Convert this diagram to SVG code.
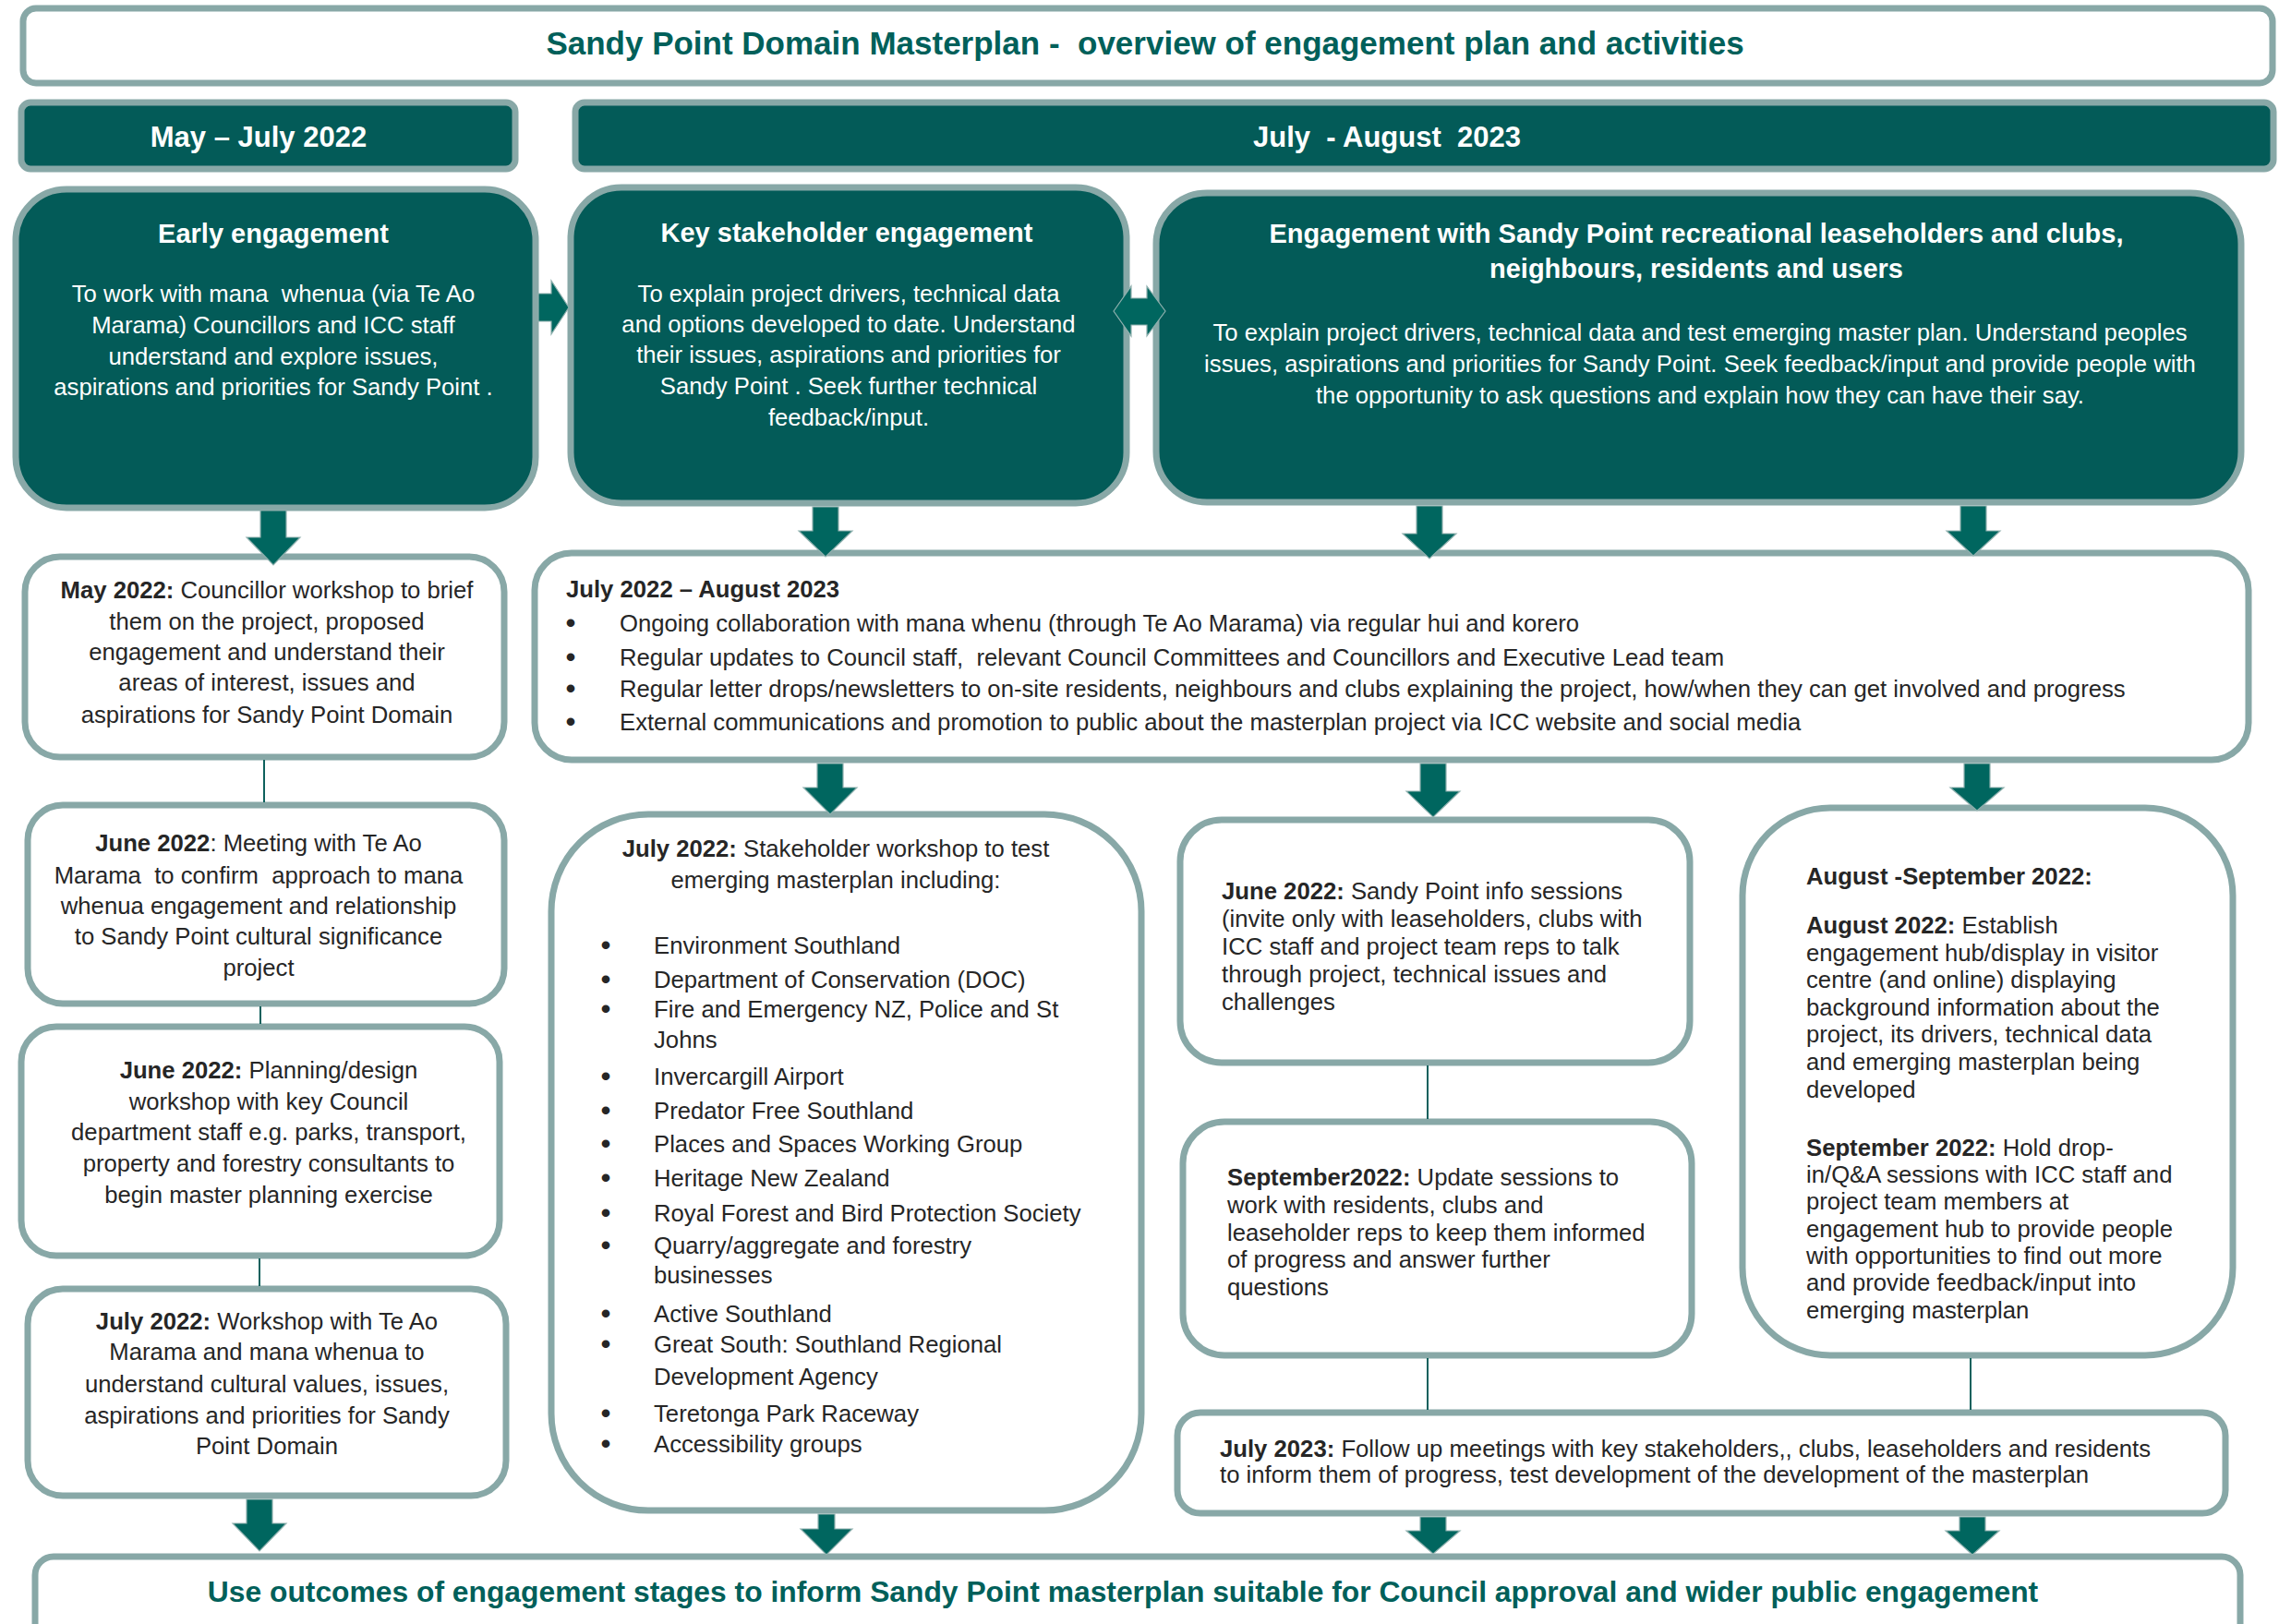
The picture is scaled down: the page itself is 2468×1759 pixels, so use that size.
<svg xmlns="http://www.w3.org/2000/svg" width="2468" height="1759" viewBox="0 0 2468 1759" xml:space="preserve">
<style>
.box{fill:#fff;stroke:#88A8A7;stroke-width:7}
.dbox{fill:#035B58;stroke:#88A8A7;stroke-width:7}
text{font-family:"Liberation Sans",Arial,sans-serif;font-size:25.7px;fill:#262626;white-space:pre}
.c{text-anchor:middle}
.w{fill:#fff}
.b{font-weight:bold}
.bu{font-size:30px;font-weight:bold;text-anchor:middle}
.h{font-size:29px;font-weight:bold;fill:#fff;text-anchor:middle}
.hd{font-size:31px;font-weight:bold;fill:#fff}
.tt{font-weight:bold;fill:#00605A}
.arr{fill:#00665F;stroke:#8FB0AE;stroke-width:1.2}
.ln{stroke:#0E615D;stroke-width:2;fill:none}
</style>
<rect width="2468" height="1759" fill="#fff"/>
<g id="title"><rect class="box" x="25" y="9" width="2436" height="81" rx="14"/><text class="tt c" x="1240" y="59" style="font-size:35px">Sandy Point Domain Masterplan -  overview of engagement plan and activities</text></g>
<g id="hdr-may-july"><rect class="dbox" x="23" y="111" width="535" height="72" rx="10"/><text class="hd c" x="280" y="159">May – July 2022</text></g>
<g id="hdr-july-aug"><rect class="dbox" x="623" y="111" width="1839" height="72" rx="10"/><text class="hd" x="1357" y="159">July  - August  2023</text></g>
<g id="early"><rect class="dbox" x="17" y="205" width="563" height="345" rx="55"/><text class="h" x="296" y="263">Early engagement</text><text class="w c" x="296" y="327">To work with mana  whenua (via Te Ao</text><text class="w c" x="296" y="361">Marama) Councillors and ICC staff</text><text class="w c" x="296" y="395">understand and explore issues,</text><text class="w c" x="296" y="428">aspirations and priorities for Sandy Point .</text></g>
<g id="key"><rect class="dbox" x="618" y="203" width="602" height="342" rx="55"/><text class="h" x="917" y="262">Key stakeholder engagement</text><text class="w c" x="919" y="327">To explain project drivers, technical data</text><text class="w c" x="919" y="360">and options developed to date. Understand</text><text class="w c" x="919" y="393">their issues, aspirations and priorities for</text><text class="w c" x="919" y="427">Sandy Point . Seek further technical</text><text class="w c" x="919" y="461">feedback/input.</text></g>
<g id="engagement"><rect class="dbox" x="1252" y="209" width="1175" height="335" rx="55"/><text class="h" x="1837" y="263">Engagement with Sandy Point recreational leaseholders and clubs,</text><text class="h" x="1837" y="301">neighbours, residents and users</text><text class="w c" x="1841" y="369">To explain project drivers, technical data and test emerging master plan. Understand peoples</text><text class="w c" x="1841" y="403">issues, aspirations and priorities for Sandy Point. Seek feedback/input and provide people with</text><text class="w c" x="1841" y="437">the opportunity to ask questions and explain how they can have their say.</text></g>
<g id="may2022"><rect class="box" x="27" y="603" width="519" height="217" rx="38"/><text class="c" x="289" y="648"><tspan class="b">May 2022:</tspan> Councillor workshop to brief</text><text class="c" x="289" y="682">them on the project, proposed</text><text class="c" x="289" y="715">engagement and understand their</text><text class="c" x="289" y="748">areas of interest, issues and</text><text class="c" x="289" y="783">aspirations for Sandy Point Domain</text></g>
<g id="ongoing"><rect class="box" x="579" y="599" width="1856" height="224" rx="40"/><text class="b" x="613" y="647">July 2022 – August 2023</text><text class="bu" x="618" y="685">•</text><text x="671" y="684">Ongoing collaboration with mana whenu (through Te Ao Marama) via regular hui and korero</text><text class="bu" x="618" y="722">•</text><text x="671" y="721">Regular updates to Council staff,  relevant Council Committees and Councillors and Executive Lead team</text><text class="bu" x="618" y="756">•</text><text x="671" y="755">Regular letter drops/newsletters to on-site residents, neighbours and clubs explaining the project, how/when they can get involved and progress</text><text class="bu" x="618" y="792">•</text><text x="671" y="791">External communications and promotion to public about the masterplan project via ICC website and social media</text></g>
<g id="june-meeting"><rect class="box" x="30" y="872" width="516" height="215" rx="38"/><text class="c" x="280" y="922"><tspan class="b">June 2022</tspan>: Meeting with Te Ao</text><text class="c" x="280" y="957">Marama  to confirm  approach to mana</text><text class="c" x="280" y="990">whenua engagement and relationship</text><text class="c" x="280" y="1023">to Sandy Point cultural significance</text><text class="c" x="280" y="1057">project</text></g>
<g id="june-planning"><rect class="box" x="23" y="1112" width="518" height="248" rx="38"/><text class="c" x="291" y="1168"><tspan class="b">June 2022:</tspan> Planning/design</text><text class="c" x="291" y="1202">workshop with key Council</text><text class="c" x="291" y="1235">department staff e.g. parks, transport,</text><text class="c" x="291" y="1269">property and forestry consultants to</text><text class="c" x="291" y="1303">begin master planning exercise</text></g>
<g id="july-workshop"><rect class="box" x="30" y="1396" width="518" height="224" rx="38"/><text class="c" x="289" y="1440"><tspan class="b">July 2022:</tspan> Workshop with Te Ao</text><text class="c" x="289" y="1473">Marama and mana whenua to</text><text class="c" x="289" y="1508">understand cultural values, issues,</text><text class="c" x="289" y="1542">aspirations and priorities for Sandy</text><text class="c" x="289" y="1575">Point Domain</text></g>
<g id="stakeholder-workshop"><rect class="box" x="597" y="882" width="639" height="754" rx="105"/><text class="c" x="905" y="928"><tspan class="b">July 2022:</tspan> Stakeholder workshop to test</text><text class="c" x="905" y="962">emerging masterplan including:</text>
<text class="bu" x="656" y="1034">•</text><text x="708" y="1033">Environment Southland</text>
<text class="bu" x="656" y="1071">•</text><text x="708" y="1070">Department of Conservation (DOC)</text>
<text class="bu" x="656" y="1103">•</text><text x="708" y="1102">Fire and Emergency NZ, Police and St</text><text x="708" y="1135">Johns</text>
<text class="bu" x="656" y="1176">•</text><text x="708" y="1175">Invercargill Airport</text>
<text class="bu" x="656" y="1213">•</text><text x="708" y="1212">Predator Free Southland</text>
<text class="bu" x="656" y="1249">•</text><text x="708" y="1248">Places and Spaces Working Group</text>
<text class="bu" x="656" y="1286">•</text><text x="708" y="1285">Heritage New Zealand</text>
<text class="bu" x="656" y="1324">•</text><text x="708" y="1323">Royal Forest and Bird Protection Society</text>
<text class="bu" x="656" y="1359">•</text><text x="708" y="1358">Quarry/aggregate and forestry</text><text x="708" y="1390">businesses</text>
<text class="bu" x="656" y="1433">•</text><text x="708" y="1432">Active Southland</text>
<text class="bu" x="656" y="1466">•</text><text x="708" y="1465">Great South: Southland Regional</text><text x="708" y="1500">Development Agency</text>
<text class="bu" x="656" y="1541">•</text><text x="708" y="1540">Teretonga Park Raceway</text>
<text class="bu" x="656" y="1574">•</text><text x="708" y="1573">Accessibility groups</text></g>
<g id="info-sessions"><rect class="box" x="1278" y="888" width="552" height="263" rx="45"/><text x="1323" y="974"><tspan class="b">June 2022:</tspan> Sandy Point info sessions</text><text x="1323" y="1004">(invite only with leaseholders, clubs with</text><text x="1323" y="1034">ICC staff and project team reps to talk</text><text x="1323" y="1064">through project, technical issues and</text><text x="1323" y="1094">challenges</text></g>
<g id="update-sessions"><rect class="box" x="1281" y="1215" width="551" height="253" rx="45"/><text x="1329" y="1284"><tspan class="b">September2022:</tspan> Update sessions to</text><text x="1329" y="1314">work with residents, clubs and</text><text x="1329" y="1344">leaseholder reps to keep them informed</text><text x="1329" y="1373">of progress and answer further</text><text x="1329" y="1403">questions</text></g>
<g id="aug-sep"><rect class="box" x="1887" y="875" width="531" height="593" rx="95"/><text class="b" x="1956" y="958">August -September 2022:</text><text x="1956" y="1011"><tspan class="b">August 2022:</tspan> Establish</text><text x="1956" y="1041">engagement hub/display in visitor</text><text x="1956" y="1070">centre (and online) displaying</text><text x="1956" y="1100">background information about the</text><text x="1956" y="1129">project, its drivers, technical data</text><text x="1956" y="1159">and emerging masterplan being</text><text x="1956" y="1189">developed</text><text x="1956" y="1252"><tspan class="b">September 2022:</tspan> Hold drop-</text><text x="1956" y="1281">in/Q&amp;A sessions with ICC staff and</text><text x="1956" y="1310">project team members at</text><text x="1956" y="1340">engagement hub to provide people</text><text x="1956" y="1369">with opportunities to find out more</text><text x="1956" y="1398">and provide feedback/input into</text><text x="1956" y="1428">emerging masterplan</text></g>
<g id="july2023"><rect class="box" x="1275" y="1530" width="1135" height="109" rx="25"/><text x="1321" y="1578"><tspan class="b">July 2023:</tspan> Follow up meetings with key stakeholders,, clubs, leaseholders and residents</text><text x="1321" y="1606">to inform them of progress, test development of the development of the masterplan</text></g>
<g id="outcome"><rect class="box" x="38" y="1686" width="2388" height="100" rx="20"/><text class="tt c" x="1216" y="1735" style="font-size:31.8px">Use outcomes of engagement stages to inform Sandy Point masterplan suitable for Council approval and wider public engagement</text></g>
<g id="connectors">
<line class="ln" x1="286" y1="823" x2="286" y2="869"/>
<line class="ln" x1="282" y1="1090" x2="282" y2="1109"/>
<line class="ln" x1="281" y1="1363" x2="281" y2="1393"/>
<line class="ln" x1="1546" y1="1154" x2="1546" y2="1212"/>
<line class="ln" x1="1546" y1="1471" x2="1546" y2="1527"/>
<line class="ln" x1="2134" y1="1471" x2="2134" y2="1527"/>
<polygon class="arr" points="583,318 597,318 597,304 616,333 597,362 597,348 583,348"/>
<polygon class="arr" points="1206,337 1225,310 1225,323 1242,323 1242,310 1262,337 1242,364 1242,352 1225,352 1225,364"/>
<polygon class="arr" points="282,553 310,553 310,582 325,582 296,612 267,582 282,582"/>
<polygon class="arr" points="880,549 908,549 908,575 923,575 894,603 865,575 880,575"/>
<polygon class="arr" points="1534,548 1562,548 1562,578 1577,578 1548,605 1519,578 1534,578"/>
<polygon class="arr" points="2123,548 2151,548 2151,575 2166,575 2137,602 2108,575 2123,575"/>
<polygon class="arr" points="885,827 913,827 913,853 928,853 899,882 870,853 885,853"/>
<polygon class="arr" points="1538,827 1566,827 1566,857 1581,857 1552,885 1523,857 1538,857"/>
<polygon class="arr" points="2127,827 2155,827 2155,853 2170,853 2141,878 2112,853 2127,853"/>
<polygon class="arr" points="267,1624 295,1624 295,1650 310,1650 281,1680 252,1650 267,1650"/>
<polygon class="arr" points="886,1640 904,1640 904,1656 923,1656 895,1684 867,1656 886,1656"/>
<polygon class="arr" points="1538,1643 1566,1643 1566,1658 1581,1658 1552,1683 1523,1658 1538,1658"/>
<polygon class="arr" points="2122,1643 2150,1643 2150,1658 2165,1658 2136,1684 2107,1658 2122,1658"/>
</g>
</svg>
